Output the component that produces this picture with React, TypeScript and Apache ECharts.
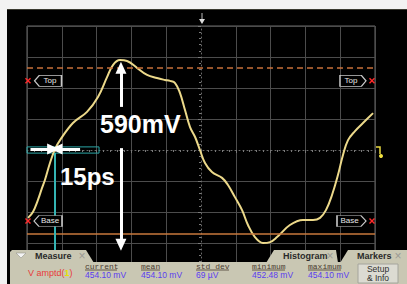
import React, { useEffect, useRef } from 'react';
import * as echarts from 'echarts';

// Trace: time (ps, 20 ps/div, centre = 0) and voltage (mV, 100 mV/div)
const timePs = [-99.4, -96.6, -93.7, -91.4, -89.7, -86.8, -83.9, -81.0, -73.6, -65.5, -59.2, -54.0, -50.6, -46.6, -42.5, -36.8, -31.0, -25.3, -20.7, -17.8, -14.9, -12.1, -9.2, -6.3, -3.4, -0.6, 2.3, 6.3, 12.1, 15.5, 19.5, 23.6, 27.0, 31.0, 35.6, 39.7, 43.7, 51.1, 58.6, 64.4, 68.4, 71.8, 75.3, 78.7, 81.6, 84.5, 88.5, 93.1, 98.9];
const voltMv = [-219, -200, -161, -123, -97, -42, 3, 32, 87, 123, 171, 235, 274, 290, 287, 265, 242, 232, 226, 223, 216, 184, 129, 74, 42, 0, -42, -71, -90, -113, -152, -194, -242, -281, -300, -297, -281, -242, -226, -226, -219, -194, -145, -81, -16, 32, 61, 87, 119];

// Levels (mV)
const topLevel = 265;
const baseLevel = -271;
const topTagLevel = 223;
const baseTagLevel = -229;

// Annotation arrows (ps / mV)
const ampArrowTime = -46;
const ampUp = [139, 265];
const ampDown = [6, -306];
const crossLevel = 3;
const leftArrow = [-98, -85];
const rightArrow = [-69.5, -83];
const cyanBox = [-100, -58.6, 10, -10];
const cyanTime = -84;

// Measurement panel
const measName = 'V amptd(';
const measChan = '1';
const statLabels = ['current', 'mean', 'std dev', 'minimum', 'maximum'];
const statValues = ['454.10 mV', '454.10 mV', '69 µV', '452.48 mV', '454.10 mV'];
const tabNames = ['Measure', 'Histogram', 'Markers'];

const xTickCount = 11;
const yTickCount = 9;

export default function App() {
  const ref = useRef<HTMLDivElement>(null);
  useEffect(() => {
    document.body.style.margin = '0';
    const chart = echarts.init(ref.current!, null, { renderer: 'svg' });
    const grid = '#4c4c4c';
    const xColors = Array.from({ length: xTickCount }, (_, i) => (i === 5 ? 'rgba(0,0,0,0)' : grid));
    const yColors = Array.from({ length: yTickCount }, (_, i) => (i === 4 ? 'rgba(0,0,0,0)' : grid));
    const tagStyle = { color: '#000', borderColor: '#c8c8c8', borderWidth: 1 };
    const tagLabel = { show: true, position: 'inside', color: '#e8e8e8', fontSize: 8, fontFamily: 'Liberation Sans' };
    const leftTag = 'path://M0,5L5,0L28,0L28,10L5,10Z';
    const rightTag = 'path://M0,0L23,0L28,5L23,10L0,10Z';
    const redX = 'path://M0,1L1,0L3,2L5,0L6,1L4,3L6,5L5,6L3,4L1,6L0,5L2,3Z';
    const whiteArrow = { color: '#ffffff', width: 3, type: 'solid' };
    const arrowEnd = (t: number, v: number) => ({ coord: [t, v], symbol: 'triangle', symbolSize: [11, 12] });

    const statX = [85, 141, 196, 252, 308];
    const statW = [32, 19, 33, 33, 33];
    const panelZ = 100;
    const panelColor = '#c9c7b3';
    const graphics: any[] = [
      { type: 'rect', shape: { x: 0, y: 0, width: 407, height: 9 }, style: { fill: '#f2f2f2' }, z: panelZ },
      { type: 'rect', shape: { x: 0, y: 0, width: 7, height: 284 }, style: { fill: '#f2f2f2' }, z: panelZ },
      { type: 'line', shape: { x1: 7, y1: 9.5, x2: 407, y2: 9.5 }, style: { stroke: '#3a3a30', lineWidth: 1 }, z: panelZ },
      // top trigger marker
      { type: 'line', shape: { x1: 202, y1: 13, x2: 202, y2: 20 }, style: { stroke: '#bbbbbb', lineWidth: 1 }, z: panelZ },
      { type: 'polygon', shape: { points: [[199, 19], [205, 19], [202, 24]] }, style: { fill: '#dddddd' }, z: panelZ },
      // channel marker at right
      { type: 'polyline', shape: { points: [[376, 147], [380, 147], [380, 154]] }, style: { stroke: '#e8d840', lineWidth: 1.5, fill: null }, z: panelZ },
      { type: 'circle', shape: { cx: 381, cy: 156, r: 2 }, style: { fill: '#f0e040' }, z: panelZ },
      // annotation texts
      { type: 'text', x: 100, y: 111, style: { text: '590mV', fill: '#ffffff', font: 'bold 25px "Liberation Sans", Arial, sans-serif' }, z: panelZ },
      { type: 'text', x: 60, y: 164, style: { text: '15ps', fill: '#ffffff', font: 'bold 24px "Liberation Sans", Arial, sans-serif' }, z: panelZ },
      // panel
      { type: 'rect', shape: { x: 10, y: 262, width: 397, height: 22 }, style: { fill: panelColor }, z: panelZ },
      { type: 'polygon', shape: { points: [[10, 263], [10, 252], [12, 250], [86, 250], [94, 263]] }, style: { fill: panelColor }, z: panelZ },
      { type: 'polygon', shape: { points: [[266, 263], [274, 250], [336, 250], [338, 263]] }, style: { fill: panelColor }, z: panelZ },
      { type: 'polygon', shape: { points: [[340, 263], [348, 250], [407, 250], [407, 263]] }, style: { fill: panelColor }, z: panelZ },
      { type: 'polygon', shape: { points: [[16, 253], [26, 253], [21, 258]] }, style: { fill: '#f4f4f4', stroke: '#8a8a80', lineWidth: 0.5 }, z: panelZ + 1 },
      { type: 'text', x: 35, y: 256, style: { text: tabNames[0], fill: '#2a2a2a', font: 'bold 9px "Liberation Sans", Arial, sans-serif', verticalAlign: 'middle' }, z: panelZ + 1 },
      { type: 'text', x: 283, y: 256, style: { text: tabNames[1], fill: '#2a2a2a', font: 'bold 9px "Liberation Sans", Arial, sans-serif', verticalAlign: 'middle' }, z: panelZ + 1 },
      { type: 'text', x: 357, y: 256, style: { text: tabNames[2], fill: '#2a2a2a', font: 'bold 9px "Liberation Sans", Arial, sans-serif', verticalAlign: 'middle' }, z: panelZ + 1 },
      ...[82, 330, 398].map((cx) => ({ type: 'text', x: cx, y: 256, style: { text: '×', fill: '#9a9a94', font: '12px "Liberation Sans", Arial, sans-serif', align: 'center', verticalAlign: 'middle' }, z: panelZ + 1 })),
      {
        type: 'text', x: 28, y: 273,
        style: {
          text: `{r|${measName}}{y|${measChan}}{r|)}`,
          verticalAlign: 'middle',
          rich: {
            r: { fill: '#e83a3a', font: '9px "Liberation Sans", Arial, sans-serif' },
            y: { fill: '#e8e000', font: 'bold 9px "Liberation Sans", Arial, sans-serif' },
          },
        },
        z: panelZ + 1,
      },
      ...statLabels.flatMap((lab, i) => [
        { type: 'text', x: statX[i], y: 266, style: { text: lab, fill: '#4a3c30', font: '8px "Liberation Mono", monospace', verticalAlign: 'middle' }, z: panelZ + 1 },
        { type: 'line', shape: { x1: statX[i], y1: 270, x2: statX[i] + statW[i], y2: 270 }, style: { stroke: '#4a3c30', lineWidth: 0.8 }, z: panelZ + 1 },
        { type: 'text', x: statX[i], y: 275, style: { text: statValues[i], fill: '#5a40f0', font: '8.5px "Liberation Sans", Arial, sans-serif', verticalAlign: 'middle' }, z: panelZ + 1 },
      ]),
      { type: 'rect', shape: { x: 358, y: 264, width: 40, height: 19 }, style: { fill: '#dcdbd2', stroke: '#a4a49c', lineWidth: 1 }, z: panelZ + 1 },
      { type: 'text', x: 378, y: 269, style: { text: 'Setup', fill: '#303030', font: '8.5px "Liberation Sans", Arial, sans-serif', align: 'center', verticalAlign: 'middle' }, z: panelZ + 2 },
      { type: 'text', x: 378, y: 278, style: { text: '& Info', fill: '#303030', font: '8.5px "Liberation Sans", Arial, sans-serif', align: 'center', verticalAlign: 'middle' }, z: panelZ + 2 },
    ];

    chart.setOption({
      animation: false,
      backgroundColor: '#000000',
      grid: { left: 27, top: 26, width: 348, height: 248, show: true, borderColor: '#6a6a6a', borderWidth: 1, backgroundColor: 'transparent', outerBoundsMode: 'none' },
      xAxis: {
        type: 'value', min: -100, max: 100, interval: 20,
        axisLabel: { show: false },
        axisLine: { show: true, onZero: true, lineStyle: { color: '#6a6a6a', type: [1, 3] } },
        axisTick: { show: true, length: 3, lineStyle: { color: '#7a7a7a' } },
        minorTick: { show: true, splitNumber: 5, length: 2, lineStyle: { color: '#7a7a7a' } },
        splitLine: { show: true, lineStyle: { color: xColors, width: 1 } },
      },
      yAxis: {
        type: 'value', min: -400, max: 400, interval: 100,
        axisLabel: { show: false },
        axisLine: { show: true, onZero: true, lineStyle: { color: '#6a6a6a', type: [1, 3] } },
        axisTick: { show: true, length: 3, lineStyle: { color: '#7a7a7a' } },
        minorTick: { show: true, splitNumber: 5, length: 2, lineStyle: { color: '#7a7a7a' } },
        splitLine: { show: true, lineStyle: { color: yColors, width: 1 } },
      },
      series: [
        {
          type: 'line',
          data: timePs.map((t, i) => [t, voltMv[i]]),
          symbol: 'none',
          smooth: 0.4,
          lineStyle: { color: '#ecd98a', width: 2 },
          z: 3,
          markArea: {
            silent: true,
            itemStyle: { color: 'rgba(0,0,0,0)', borderColor: '#2aa6a6', borderWidth: 1 },
            data: [[{ coord: [cyanBox[0], cyanBox[2]] }, { coord: [cyanBox[1], cyanBox[3]] }]],
          },
          markLine: {
            silent: true,
            symbol: ['none', 'none'],
            label: { show: false },
            data: [
              { yAxis: topLevel, lineStyle: { color: '#c8703a', width: 1.5, type: [6, 4] } },
              { yAxis: baseLevel, lineStyle: { color: '#c8783c', width: 1.5, type: 'solid' } },
              [{ coord: [cyanTime, cyanBox[3]], lineStyle: { color: '#34b4b4', width: 2, type: 'solid' } }, { coord: [cyanTime, -400] }],
              [{ coord: [ampArrowTime, ampUp[0]], lineStyle: whiteArrow }, arrowEnd(ampArrowTime, ampUp[1])],
              [{ coord: [ampArrowTime, ampDown[0]], lineStyle: whiteArrow }, arrowEnd(ampArrowTime, ampDown[1])],
              [{ coord: [leftArrow[0], crossLevel], lineStyle: whiteArrow }, arrowEnd(leftArrow[1], crossLevel)],
              [{ coord: [rightArrow[0], crossLevel], lineStyle: whiteArrow }, arrowEnd(rightArrow[1], crossLevel)],
            ],
          },
          markPoint: {
            silent: true,
            data: [
              { coord: [-100, topTagLevel], symbol: leftTag, symbolSize: [27, 11], symbolOffset: [21, 0], itemStyle: tagStyle, label: { ...tagLabel, formatter: 'Top', offset: [2, 0] } },
              { coord: [100, topTagLevel], symbol: rightTag, symbolSize: [26, 11], symbolOffset: [-22, 0], itemStyle: tagStyle, label: { ...tagLabel, formatter: 'Top', offset: [-2, 0] } },
              { coord: [-100, baseTagLevel], symbol: leftTag, symbolSize: [28, 11], symbolOffset: [21, 0], itemStyle: tagStyle, label: { ...tagLabel, formatter: 'Base', offset: [2, 0] } },
              { coord: [100, baseTagLevel], symbol: rightTag, symbolSize: [29, 11], symbolOffset: [-23.5, 0], itemStyle: tagStyle, label: { ...tagLabel, formatter: 'Base', offset: [-2, 0] } },
              { coord: [-100, topTagLevel], symbol: redX, symbolSize: 6, symbolOffset: [1, 0], itemStyle: { color: '#ff2a2a' }, label: { show: false } },
              { coord: [100, topTagLevel], symbol: redX, symbolSize: 6, symbolOffset: [-3, 0], itemStyle: { color: '#ff2a2a' }, label: { show: false } },
              { coord: [-100, baseTagLevel], symbol: redX, symbolSize: 6, symbolOffset: [1, 0], itemStyle: { color: '#ff2a2a' }, label: { show: false } },
              { coord: [100, baseTagLevel], symbol: redX, symbolSize: 6, symbolOffset: [-3, 0], itemStyle: { color: '#ff2a2a' }, label: { show: false } },
            ],
          },
        },
      ],
      graphic: graphics,
    });
    return () => chart.dispose();
  }, []);
  return <div ref={ref} style={{ position: 'absolute', left: 0, top: 0, width: 407, height: 284 }} />;
}
